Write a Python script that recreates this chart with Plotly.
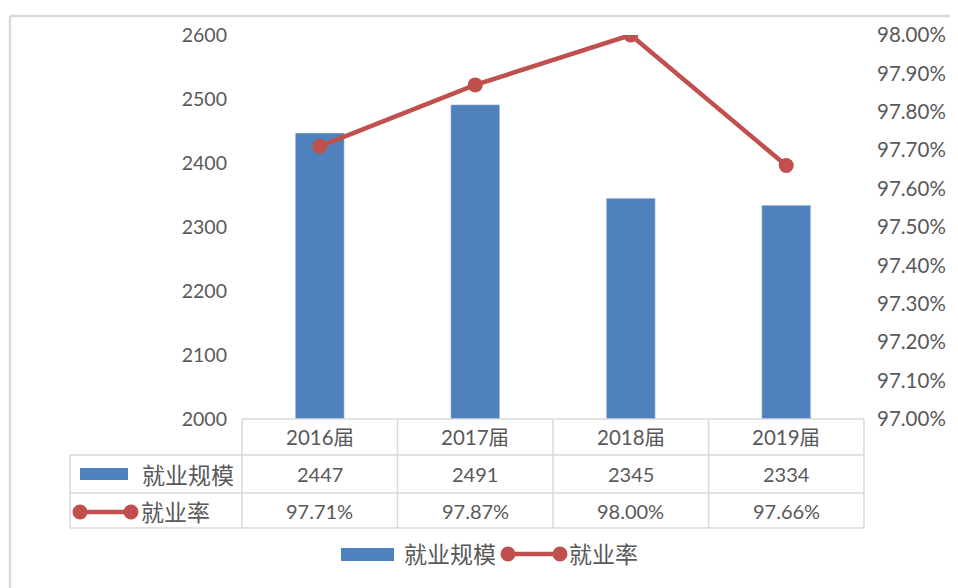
import plotly.graph_objects as go

categories = ["2016届", "2017届", "2018届", "2019届"]
scale_values = [2447, 2491, 2345, 2334]
rate_values = [0.9771, 0.9787, 0.9800, 0.9766]
scale_name = "就业规模"
rate_name = "就业率"

# page pixel targets; the html body has an 8px margin, so the figure is offset
OFF = 8
W, H = 958 - OFF, 588 - OFF
L, R, T, B = 242, 864, 35, 419
BLUE = "#4F81BD"
RED = "#C0504D"
GRID = "#D9D9D9"
TXT = "#595959"
NUMFONT = "Lato, Open Sans, sans-serif"
CJKFONT = "Noto Sans CJK SC, sans-serif"


def px(x):
    return (x - L) / (R - L)


def py(y):
    return (B - y) / (B - T)


fig = go.Figure()
fig.add_trace(go.Bar(x=list(range(4)), y=scale_values, marker_color=BLUE,
                     name=scale_name, showlegend=False, yaxis="y"))
fig.add_trace(go.Scatter(x=list(range(4)), y=rate_values, mode="lines+markers",
                         line=dict(color=RED, width=4.5),
                         marker=dict(color=RED, size=15),
                         name=rate_name, showlegend=False, yaxis="y2"))

shapes = []
ann = []


def hline(x0, x1, y, color=GRID, w=1.5):
    shapes.append(dict(type="line", xref="paper", yref="paper",
                       x0=px(x0), x1=px(x1), y0=py(y), y1=py(y),
                       line=dict(color=color, width=w), layer="above"))


def vline(x, y0, y1, color=GRID, w=1.5):
    shapes.append(dict(type="line", xref="paper", yref="paper",
                       x0=px(x), x1=px(x), y0=py(y0), y1=py(y1),
                       line=dict(color=color, width=w), layer="above"))


def text(x, y, s, font, size, xref="paper", xanchor="center"):
    ann.append(dict(x=x, xref=xref, y=py(y), yref="paper", text=s,
                    xanchor=xanchor, yanchor="middle", showarrow=False,
                    font=dict(family=font, size=size, color=TXT)))


# outer frame (top and left visible)
hline(10, 958, 16, color="#D9D9D9", w=2.5)
vline(10, 16, 588, color="#D9D9D9", w=2.5)

# data table grid
col_x = [L + i * (R - L) / 4 for i in range(5)]
hline(L, R, 419)
for yy in (455, 493, 528):
    hline(70, R, yy)
for xx in col_x:
    vline(xx, 419, 528)
vline(70, 455, 528)

# table text
for i, c in enumerate(categories):
    text(i, 437, c, NUMFONT + ", " + CJKFONT, 20.5, xref="x")
    text(i, 474, str(scale_values[i]), NUMFONT, 20, xref="x")
    text(i, 511, f"{rate_values[i]*100:.2f}%", NUMFONT, 20, xref="x")

# legend keys inside table
shapes.append(dict(type="rect", xref="paper", yref="paper", x0=px(80), x1=px(128),
                   y0=py(468), y1=py(480), fillcolor=BLUE, line=dict(width=0)))
text(px(140), 474, scale_name, CJKFONT, 23, xanchor="left")
hline(80, 131, 512, color=RED, w=4.5)
for cx in (80, 131):
    shapes.append(dict(type="circle", xref="paper", yref="paper",
                       x0=px(cx - 7.5), x1=px(cx + 7.5), y0=py(512 - 7.5), y1=py(512 + 7.5),
                       fillcolor=RED, line=dict(width=0), layer="above"))
text(px(139), 511, rate_name, CJKFONT, 23, xanchor="left")

# bottom legend
shapes.append(dict(type="rect", xref="paper", yref="paper", x0=px(341), x1=px(394),
                   y0=py(548), y1=py(561), fillcolor=BLUE, line=dict(width=0)))
text(px(402), 553, scale_name, CJKFONT, 23, xanchor="left")
hline(508, 560, 554, color=RED, w=4.5)
for cx in (508, 560):
    shapes.append(dict(type="circle", xref="paper", yref="paper",
                       x0=px(cx - 7.5), x1=px(cx + 7.5), y0=py(554 - 7.5), y1=py(554 + 7.5),
                       fillcolor=RED, line=dict(width=0), layer="above"))
text(px(567), 553, rate_name, CJKFONT, 23, xanchor="left")

fig.update_layout(
    width=W, height=H,
    margin=dict(l=L - OFF, r=W - (R - OFF), t=T - OFF, b=H - (B - OFF), pad=0),
    paper_bgcolor="white", plot_bgcolor="white",
    bargap=0.685,
    xaxis=dict(range=[-0.5, 3.5], showticklabels=False, showgrid=False,
               zeroline=False, showline=False, fixedrange=True),
    yaxis=dict(range=[2000, 2600], dtick=100, showgrid=False, zeroline=False,
               showline=False, ticks="", ticklabelstandoff=14,
               tickfont=dict(family=NUMFONT, size=19.5, color=TXT)),
    yaxis2=dict(range=[0.97, 0.98], dtick=0.001, tickformat=".2%", overlaying="y",
                side="right", showgrid=False, zeroline=False, showline=False,
                ticks="", ticklabelstandoff=12,
                tickfont=dict(family=NUMFONT, size=20.5, color=TXT)),
    shapes=shapes,
    annotations=ann,
)

fig.write_html("out.html")
